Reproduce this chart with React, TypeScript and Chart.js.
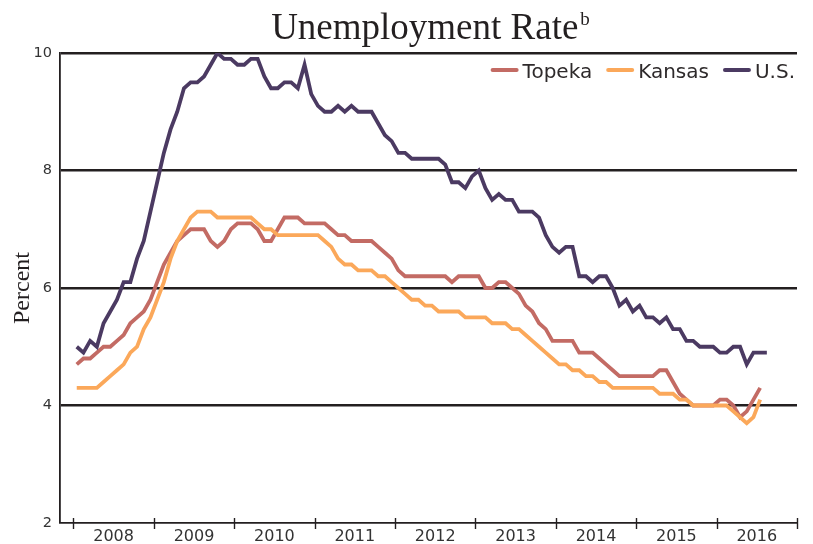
import { useEffect, useRef } from 'react';
import { Chart, registerables } from 'chart.js';

Chart.register(...registerables);

// ---- Data (monthly, Jan 2008 onward) ----
const years = ['2008', '2009', '2010', '2011', '2012', '2013', '2014', '2015', '2016'];
const yTicks = [2, 4, 6, 8, 10];
const seriesNames = ['Topeka', 'Kansas', 'U.S.'];

const topeka = [
  4.7, 4.8, 4.8, 4.9, 5.0, 5.0, 5.1, 5.2, 5.4, 5.5, 5.6, 5.8,
  6.1, 6.4, 6.6, 6.8, 6.9, 7.0, 7.0, 7.0, 6.8, 6.7, 6.8, 7.0,
  7.1, 7.1, 7.1, 7.0, 6.8, 6.8, 7.0, 7.2, 7.2, 7.2, 7.1, 7.1,
  7.1, 7.1, 7.0, 6.9, 6.9, 6.8, 6.8, 6.8, 6.8, 6.7, 6.6, 6.5,
  6.3, 6.2, 6.2, 6.2, 6.2, 6.2, 6.2, 6.2, 6.1, 6.2, 6.2, 6.2,
  6.2, 6.0, 6.0, 6.1, 6.1, 6.0, 5.9, 5.7, 5.6, 5.4, 5.3, 5.1,
  5.1, 5.1, 5.1, 4.9, 4.9, 4.9, 4.8, 4.7, 4.6, 4.5, 4.5, 4.5,
  4.5, 4.5, 4.5, 4.6, 4.6, 4.4, 4.2, 4.1, 4.0, 4.0, 4.0, 4.0,
  4.1, 4.1, 4.0, 3.8, 3.9, 4.1, 4.3,
];

const kansas = [
  4.3, 4.3, 4.3, 4.3, 4.4, 4.5, 4.6, 4.7, 4.9, 5.0, 5.3, 5.5,
  5.8, 6.1, 6.5, 6.8, 7.0, 7.2, 7.3, 7.3, 7.3, 7.2, 7.2, 7.2,
  7.2, 7.2, 7.2, 7.1, 7.0, 7.0, 6.9, 6.9, 6.9, 6.9, 6.9, 6.9,
  6.9, 6.8, 6.7, 6.5, 6.4, 6.4, 6.3, 6.3, 6.3, 6.2, 6.2, 6.1,
  6.0, 5.9, 5.8, 5.8, 5.7, 5.7, 5.6, 5.6, 5.6, 5.6, 5.5, 5.5,
  5.5, 5.5, 5.4, 5.4, 5.4, 5.3, 5.3, 5.2, 5.1, 5.0, 4.9, 4.8,
  4.7, 4.7, 4.6, 4.6, 4.5, 4.5, 4.4, 4.4, 4.3, 4.3, 4.3, 4.3,
  4.3, 4.3, 4.3, 4.2, 4.2, 4.2, 4.1, 4.1, 4.0, 4.0, 4.0, 4.0,
  4.0, 4.0, 3.9, 3.8, 3.7, 3.8, 4.1,
];

const us = [
  5.0, 4.9, 5.1, 5.0, 5.4, 5.6, 5.8, 6.1, 6.1, 6.5, 6.8, 7.3,
  7.8, 8.3, 8.7, 9.0, 9.4, 9.5, 9.5, 9.6, 9.8, 10.0, 9.9, 9.9,
  9.8, 9.8, 9.9, 9.9, 9.6, 9.4, 9.4, 9.5, 9.5, 9.4, 9.8, 9.3,
  9.1, 9.0, 9.0, 9.1, 9.0, 9.1, 9.0, 9.0, 9.0, 8.8, 8.6, 8.5,
  8.3, 8.3, 8.2, 8.2, 8.2, 8.2, 8.2, 8.1, 7.8, 7.8, 7.7, 7.9,
  8.0, 7.7, 7.5, 7.6, 7.5, 7.5, 7.3, 7.3, 7.3, 7.2, 6.9, 6.7,
  6.6, 6.7, 6.7, 6.2, 6.2, 6.1, 6.2, 6.2, 6.0, 5.7, 5.8, 5.6,
  5.7, 5.5, 5.5, 5.4, 5.5, 5.3, 5.3, 5.1, 5.1, 5.0, 5.0, 5.0,
  4.9, 4.9, 5.0, 5.0, 4.7, 4.9, 4.9, 4.9,
];

const seriesColors = ['#c36b64', '#fba85a', '#4b3a62'];

const toPoints = (vals: number[]) => vals.map((v, i) => ({ x: i + 0.5, y: v }));

const INK = '#231f20';

const decorPlugin = {
  id: 'decor',
  afterDraw(chart: any) {
    const { ctx, chartArea, scales } = chart;
    const xs = scales.x;
    ctx.save();

    // Year boundary tick marks crossing the x axis
    ctx.strokeStyle = INK;
    ctx.lineWidth = 1.4;
    for (let k = 0; k <= years.length; k++) {
      const px = Math.round(xs.getPixelForValue(k * 12)) + 0.5;
      ctx.beginPath();
      ctx.moveTo(px, chartArea.bottom - 5);
      ctx.lineTo(px, chartArea.bottom + 6);
      ctx.stroke();
    }

    // Title with superscript
    const mainText = 'Unemployment Rate';
    const supText = 'b';
    ctx.fillStyle = INK;
    ctx.textBaseline = 'alphabetic';
    ctx.font = '37px "Liberation Serif"';
    const wMain = ctx.measureText(mainText).width;
    ctx.font = '19px "Liberation Serif"';
    const wSup = ctx.measureText(supText).width;
    const total = wMain + 2 + wSup;
    const cx = (chartArea.left + chartArea.right) / 2 + 2;
    const start = cx - total / 2;
    ctx.textAlign = 'left';
    ctx.font = '37px "Liberation Serif"';
    ctx.fillText(mainText, start, 39);
    ctx.font = '19px "Liberation Serif"';
    ctx.fillText(supText, start + wMain + 2, 25);

    // Legend inside plot, top right
    ctx.font = '20px "DejaVu Sans"';
    const lineLen = 28;
    const gapText = 4;
    const gapItem = 14;
    let right = chartArea.right - 2;
    const lineY = 70;
    const textY = 78;
    for (let i = seriesNames.length - 1; i >= 0; i--) {
      const tw = ctx.measureText(seriesNames[i]).width;
      const textStart = right - tw;
      const lineEnd = textStart - gapText;
      const lineStart = lineEnd - lineLen;
      ctx.strokeStyle = seriesColors[i];
      ctx.lineWidth = 4;
      ctx.lineCap = 'round';
      ctx.beginPath();
      ctx.moveTo(lineStart + 2, lineY);
      ctx.lineTo(lineEnd - 2, lineY);
      ctx.stroke();
      ctx.fillStyle = '#2e2a2b';
      ctx.fillText(seriesNames[i], textStart, textY);
      right = lineStart - gapItem;
    }
    ctx.restore();
  },
};

export default function App() {
  const ref = useRef<HTMLCanvasElement | null>(null);

  useEffect(() => {
    if (!ref.current) return;
    const series = [topeka, kansas, us];
    const chart = new Chart(ref.current, {
      type: 'line',
      data: {
        datasets: series.map((vals, i) => ({
          label: seriesNames[i],
          data: toPoints(vals),
          borderColor: seriesColors[i],
          backgroundColor: seriesColors[i],
          borderWidth: 3.8,
          pointRadius: 0,
          tension: 0,
          fill: false,
          order: 3 - i,
        })),
      },
      options: {
        responsive: false,
        animation: false,
        devicePixelRatio: 1,
        layout: { padding: { left: 0, right: 16, top: 53, bottom: 0 } },
        plugins: {
          legend: { display: false },
          title: { display: false },
          tooltip: { enabled: false },
        },
        scales: {
          x: {
            type: 'linear',
            min: -2,
            max: years.length * 12,
            afterFit: (s: any) => {
              s.height = 21;
            },
            afterBuildTicks: (s: any) => {
              s.ticks = years.map((_, k) => ({ value: k * 12 + 6 }));
            },
            grid: { display: false, drawTicks: false },
            border: { display: true, color: INK, width: 1.8 },
            ticks: {
              padding: 4,
              maxRotation: 0,
              autoSkip: false,
              color: '#333',
              font: { family: 'DejaVu Sans', size: 16 },
              callback: (v: any) => {
                const k = Math.round((Number(v) - 6) / 12);
                return years[k] ?? '';
              },
            },
          },
          y: {
            min: 2,
            max: 10,
            afterFit: (s: any) => {
              s.width = 60;
            },
            afterBuildTicks: (s: any) => {
              s.ticks = yTicks.map((v) => ({ value: v }));
            },
            grid: {
              drawTicks: false,
              color: (c: any) => (c.tick && c.tick.value === 2 ? 'rgba(0,0,0,0)' : INK),
              lineWidth: (c: any) => (c.tick && c.tick.value === 2 ? 0 : 2.5),
            },
            border: { display: true, color: INK, width: 1.8 },
            ticks: {
              padding: 8,
              color: '#333',
              font: { family: 'DejaVu Sans', size: 14.5 },
              callback: (v: any) => String(v),
            },
            title: {
              display: true,
              text: 'Percent',
              color: INK,
              font: { family: 'Liberation Serif', size: 24, lineHeight: 1.2 },
              padding: { top: 8, bottom: 0 },
            },
          },
        },
      },
      plugins: [decorPlugin],
    });
    return () => chart.destroy();
  }, []);

  return (
    <div style={{ position: 'fixed', left: 0, top: 0, width: 813, height: 544, background: '#fff' }}>
      <canvas ref={ref} width={813} height={544} style={{ display: 'block' }} />
    </div>
  );
}
